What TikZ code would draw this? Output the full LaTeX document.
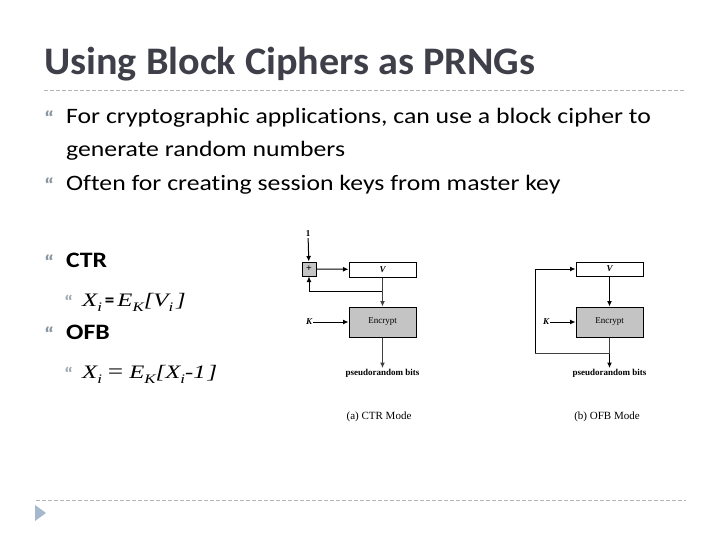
\documentclass[tikz,border=0pt]{standalone}
\usepackage{fontspec}
\setmainfont{Carlito}[Ligatures=NoCommon]
\newfontfamily\bodyfont{Carlito}[Ligatures=NoCommon, FakeStretch=1.17]
\newfontfamily\eqfont{Carlito}[FakeStretch=1.0]
\newfontfamily\titlefont{Carlito}[Ligatures=NoCommon, FakeStretch=1.03]
\newfontfamily\serif{Liberation Serif}
\newfontfamily\fserif{Liberation Serif}[FakeStretch=1.3]
\newcommand{\fsub}[1]{\raisebox{-5pt}{\fontsize{13}{13}\selectfont #1}}
\usetikzlibrary{arrows.meta}
\definecolor{titlecol}{HTML}{3F3F4A}
\definecolor{bulcol}{HTML}{8C96A0}
\definecolor{rulecol}{HTML}{B4B4B4}
\definecolor{tricol}{HTML}{A6B8CC}
\definecolor{boxgray}{HTML}{C4C4C4}
\tikzset{
  bul/.style={anchor=base west, inner sep=0, text=bulcol, font=\fontsize{20}{22}\bodyfont\bfseries},
  subbul/.style={bul, text=bulcol!80, font=\fontsize{18}{20}\bodyfont\bfseries},
  body/.style={anchor=base west, inner sep=0, font=\fontsize{22}{24}\bodyfont},
  bodyb/.style={body, font=\fontsize{22}{24}\bodyfont\bfseries},
  formula/.style={anchor=base west, inner sep=0, font=\fontsize{19}{22}\fserif\itshape},
  rulestyle/.style={rulecol, dash pattern=on 4pt off 2pt, line width=0.8pt},
  blk/.style={draw, line width=1pt, minimum width=67pt, inner sep=0},
  lbl/.style={inner sep=1pt, font=\fontsize{9}{10}\selectfont\serif\bfseries},
  arr/.style={line width=1pt, -{Latex[length=5.5pt,width=5pt]}},
  ln/.style={line width=1pt, draw=black!75},
}
\begin{document}
\begin{tikzpicture}[x=1pt,y=-1pt]
\useasboundingbox (0,0) rectangle (720,540);
% title
\node[anchor=base west, inner sep=0, text=titlecol, font=\fontsize{39}{42}\titlefont\bfseries] (title) at (44,75) {Using Block Ciphers as PRNGs};
\draw[rulestyle] (44,90) -- (686,90);
% bullets
\node[bul] (b1) at (44,126) {“};
\node[body] (t1) at (66,124) {For cryptographic applications, can use a block cipher to};
\node[body] (t2) at (66,157) {generate random numbers};
\node[bul] (b2) at (44,193) {“};
\node[body] (t3) at (66,191) {Often for creating session keys from master key};
\node[bul] (b3) at (44,269) {“};
\node[bodyb] (t4) at (66,267) {CTR};
\node[subbul] (b4) at (64,308) {“};
\node[formula] (f1) at (82,306) {X\fsub{i}\kern3pt{\fontsize{19}{22}\eqfont\bfseries\upshape =}\kern3pt E\fsub{K}[V\fsub{i}\kern3pt]};
\node[bul] (b5) at (44,341) {“};
\node[bodyb] (t5) at (66,339) {OFB};
\node[subbul] (b6) at (64,380) {“};
\node[formula] (f2) at (82,378) {X\fsub{i}\kern6pt{\upshape\fontsize{21}{22}\selectfont =}\kern6pt E\fsub{K}[X\fsub{i}-1\kern2pt]};
% CTR diagram
\node[lbl] (one) at (308,234) {1};
\node[draw, line width=1pt, fill=boxgray, minimum width=14pt, minimum height=14pt, inner sep=0, font=\fontsize{10}{10}\selectfont\serif\bfseries] (plus) at (309,269) {+};
\node[blk, minimum height=15pt, font=\fontsize{9}{10}\selectfont\serif\bfseries\itshape] (VA) at (382.5,269.5) {V};
\node[blk, minimum height=30pt, fill=boxgray, font=\fontsize{9}{10}\selectfont\serif] (EA) at (382.5,322) {Encrypt};
\node[lbl, font=\fontsize{9}{10}\selectfont\serif\bfseries\itshape] (KA) at (309,322) {K};
\node[lbl, anchor=north, font=\fontsize{9}{10}\selectfont\serif\bfseries] (PA) at (382.5,368) {pseudorandom bits};
\node[inner sep=0, font=\fontsize{11}{12}\selectfont\serif] (CA) at (379,417) {(a) CTR Mode};
\coordinate (sA) at (382.5,291);
\draw[arr] (one) -- (plus);
\draw[arr] (plus) -- (VA);
\draw[ln] (VA.south) -- (sA);
\draw[arr] (sA) -| (plus.south);
\draw[arr, draw=black!75] (sA) -- (EA.north);
\draw[arr] (KA) -- (EA.west);
\draw[arr, draw=black!75] (EA.south) -- (PA.north);
% OFB diagram
\node[blk, minimum height=14pt, font=\fontsize{9}{10}\selectfont\serif\bfseries\itshape] (VB) at (609.5,269) {V};
\node[blk, minimum height=30pt, fill=boxgray, font=\fontsize{9}{10}\selectfont\serif] (EB) at (609.5,322) {Encrypt};
\node[lbl, font=\fontsize{9}{10}\selectfont\serif\bfseries\itshape] (KB) at (546,322) {K};
\node[lbl, anchor=north, font=\fontsize{9}{10}\selectfont\serif\bfseries] (PB) at (609.5,368) {pseudorandom bits};
\node[inner sep=0, font=\fontsize{11}{12}\selectfont\serif] (CB) at (607,417) {(b) OFB Mode};
\coordinate (sB) at (609.5,353);
\coordinate (cB) at (535,353);
\draw[arr] (VB) -- (EB);
\draw[arr] (KB) -- (EB.west);
\draw[ln] (EB.south) -- (sB);
\draw[arr] (sB) -- (PB.north);
\draw[ln] (sB) -- (cB);
\draw[arr] (cB) |- (VB.west);
% footer
\draw[rulestyle] (36,500) -- (686,500);
\fill[tricol] (35,505) -- (46,513) -- (35,521) -- cycle;
\end{tikzpicture}
\end{document}
